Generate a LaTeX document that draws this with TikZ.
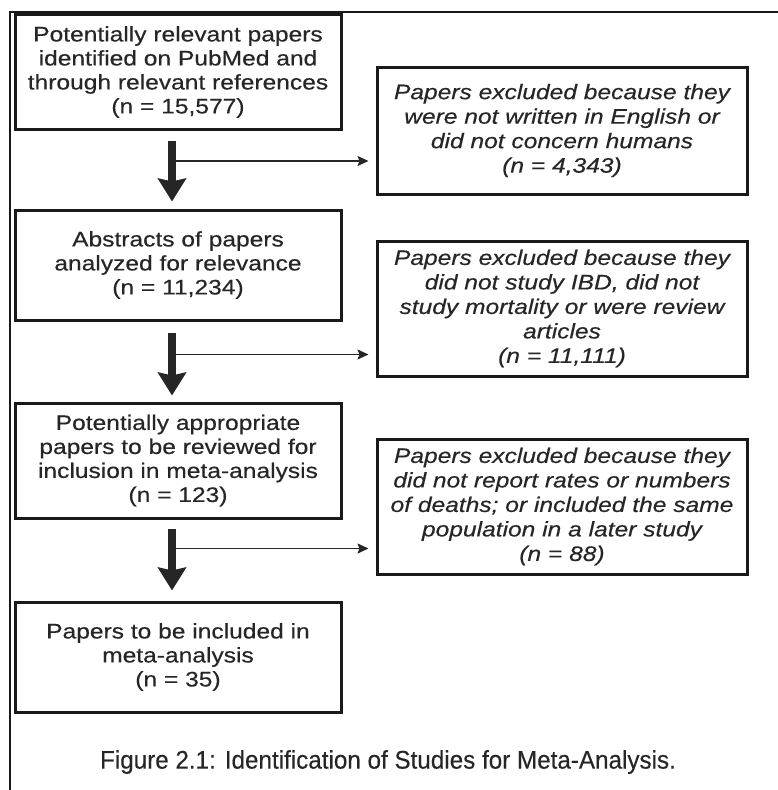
\documentclass[tikz,border=0pt]{standalone}
\usepackage{fontspec}
\setmainfont{Liberation Sans}[FakeStretch=1.17, FakeBold=0.4]
\newfontfamily\capfont{Liberation Sans}[FakeStretch=0.95, FakeBold=0.3]
\usetikzlibrary{arrows.meta}

\tikzstyle{stage}=[draw=black!90,
	       line width=3pt,
	       text=black!85,
	       align=center,
	       inner sep=0pt,
	       font=\fontsize{21}{24}\selectfont]
\tikzstyle{mainbox}=[stage, minimum width=326pt]
\tikzstyle{exclbox}=[stage, minimum width=370pt,
	       font=\fontsize{21}{24.5}\selectfont\itshape]
\tikzstyle{flow}=[line width=8pt, draw=black!85,
	       -{Stealth[length=23pt,width=28pt,inset=3pt]}]
\tikzstyle{aside}=[line width=1.6pt, draw=black!85,
	       -{Stealth[length=11pt,width=10pt,inset=2pt]}]

\begin{document}
\begin{tikzpicture}[x=1pt, y=-1pt]
\useasboundingbox (0,0) rectangle (778,790);

% frame (only top and left edge show)
\draw[line width=2pt, black!90] (10,790) -- (10,12) -- (778,12);

% left column, top box at fixed coordinate
\node[mainbox, minimum height=115pt] (srch) at (178,72)
  {Potentially relevant papers\\identified on PubMed and\\through relevant references\\(n = 15,577)};
\path (srch) ++(0,193) node (abstr) [mainbox, minimum height=110pt]
  {Abstracts of papers\\analyzed for relevance\\(n = 11,234)};
\path (abstr) ++(0,195.5) node (review) [mainbox, minimum height=115pt]
  {Potentially appropriate\\papers to be reviewed for\\inclusion in meta-analysis\\(n = 123)};
\path (review) ++(0,196.5) node (incl) [mainbox, minimum height=110pt]
  {Papers to be included in\\meta-analysis\\(n = 35)};

% right column, exclusions
\path (srch) ++(384,58.5) node (excl1) [exclbox, minimum height=127pt]
  {Papers excluded because they\\were not written in English or\\did not concern humans\\(n = 4,343)};
\path (abstr) ++(384,43.5) node (excl2) [exclbox, minimum height=135pt]
  {Papers excluded because they\\did not study IBD, did not\\study mortality or were review\\articles\\(n = 11,111)};
\path (review) ++(384,46) node (excl3) [exclbox, minimum height=135pt]
  {Papers excluded because they\\did not report rates or numbers\\of deaths; or included the same\\population in a later study\\(n = 88)};

% branch points on the down arrows
\coordinate (j1) at ([xshift=-6pt,yshift=-30pt]srch.south);
\coordinate (j2) at ([xshift=-6pt,yshift=-33pt]abstr.south);
\coordinate (j3) at ([xshift=-6pt,yshift=-29pt]review.south);

% thick arrows down the left column
\draw[flow, shorten <=10pt, shorten >=7pt] ([xshift=-6pt]srch.south) -- ([xshift=-6pt]abstr.north);
\draw[flow, shorten <=11pt, shorten >=6pt] ([xshift=-6pt]abstr.south) -- ([xshift=-6pt]review.north);
\draw[flow, shorten <=9pt, shorten >=10pt] ([xshift=-6pt]review.south) -- ([xshift=-6pt]incl.north);

% thin arrows to the exclusion boxes
\draw[aside, shorten >=7pt] (j1) -- (j1 -| excl1.west);
\draw[aside, shorten >=7pt] (j2) -- (j2 -| excl2.west);
\draw[aside, shorten >=7pt] (j3) -- (j3 -| excl3.west);

% caption
\node[text=black!85, font=\capfont\fontsize{25.5}{28}\selectfont] (cap) at (388,762)
  {Figure 2.1: Identification of Studies for Meta-Analysis.};

\end{tikzpicture}
\end{document}
